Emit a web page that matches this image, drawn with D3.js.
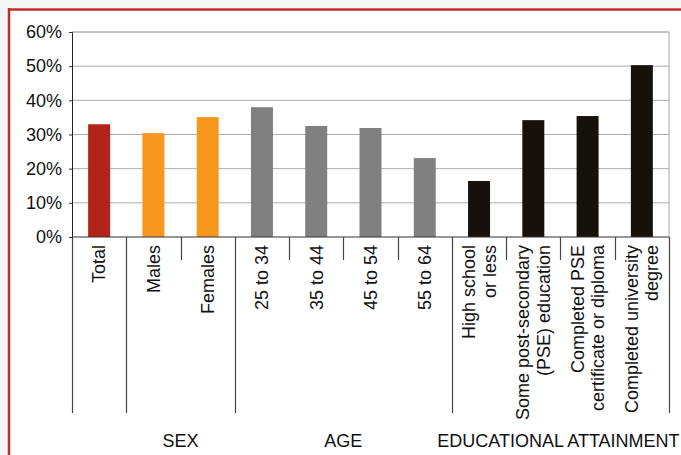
<!DOCTYPE html>
<html><head><meta charset="utf-8">
<script src="https://cdn.jsdelivr.net/npm/d3@7"></script>
<style>
html,body{margin:0;padding:0;background:#fff;overflow:hidden;}
svg{display:block;font-family:"Liberation Sans",Arial,sans-serif;}
</style></head>
<body><svg id="c" width="681" height="455"></svg>
<script>
const categories = ["Total","Males","Females","25 to 34","35 to 44","45 to 54","55 to 64",
  "High school\nor less","Some post-secondary\n(PSE) education","Completed PSE\ncertificate or diploma","Completed university\ndegree"];
const values = [33.0, 30.4, 35.1, 38.0, 32.5, 31.9, 23.1, 16.4, 34.2, 35.4, 50.3];
const groupOf = ["Total","SEX","SEX","AGE","AGE","AGE","AGE","EDU","EDU","EDU","EDU"];
const groupNames = ["SEX","AGE","EDU"];
const groupLabels = {SEX:"SEX", AGE:"AGE", EDU:"EDUCATIONAL ATTAINMENT"};
const colors = {Total:"#b22418", SEX:"#f7971e", AGE:"#808080", EDU:"#16110b"};
const yTicks = [0,10,20,30,40,50,60];

const svg = d3.select("#c");
const L = 72, R = 669, T = 32, B = 237, SEPB = 413;

// outer background strips and red frame (top and left edges)
svg.append("rect").attr("x",0).attr("y",0).attr("width",681).attr("height",8).attr("fill","#f6f8f8");
svg.append("rect").attr("x",0).attr("y",0).attr("width",8).attr("height",455).attr("fill","#f6f8f8");
svg.append("line").attr("x1",8).attr("x2",681).attr("y1",9.5).attr("y2",9.5).attr("stroke","#c0302a").attr("stroke-width",2.5);
svg.append("line").attr("x1",9).attr("x2",9).attr("y1",8).attr("y2",455).attr("stroke","#c0302a").attr("stroke-width",2.5);

const x = d3.scaleBand().domain(categories).range([L, R]).padding(0);
const y = d3.scaleLinear().domain([0, 60]).range([B, T]);

// gridlines
svg.append("g").selectAll("line").data(yTicks.filter(t => t > 0 && t < 60)).join("line")
  .attr("x1", L).attr("x2", R).attr("y1", d => y(d)).attr("y2", d => y(d))
  .attr("stroke", "#acacac").attr("stroke-width", 1);
// top and right border
svg.append("line").attr("x1", L).attr("x2", R).attr("y1", y(60)).attr("y2", y(60)).attr("stroke", "#8a8a8a");
svg.append("line").attr("x1", R).attr("x2", R).attr("y1", y(60)).attr("y2", B).attr("stroke", "#a8a8a8");

// bars
const bw = x.bandwidth() * 0.405;
svg.append("g").selectAll("rect").data(categories).join("rect")
  .attr("x", d => x(d) + x.bandwidth()/2 - bw/2)
  .attr("width", bw)
  .attr("y", (d,i) => y(values[i]))
  .attr("height", (d,i) => B - y(values[i]))
  .attr("fill", (d,i) => colors[groupOf[i]]);

// y axis
const ya = svg.append("g").attr("transform", `translate(${L},0)`)
  .call(d3.axisLeft(y).tickValues(yTicks).tickFormat(d => d + "%").tickSize(3).tickPadding(7));
ya.select(".domain").attr("stroke", "#222");
ya.selectAll(".tick line").attr("stroke", "#333");
ya.selectAll(".tick text").attr("font-size", 18).attr("fill", "#111").attr("font-family", "Liberation Sans, Arial, sans-serif");

// x axis baseline
svg.append("line").attr("x1", L).attr("x2", R).attr("y1", B).attr("y2", B).attr("stroke", "#333").attr("stroke-width", 1.2);

// separators
const bounds = [];
categories.forEach((c, i) => {
  const xb = x(c);
  const isLong = i === 0 || groupOf[i] !== groupOf[i-1];
  bounds.push({x: xb, long: isLong});
});
bounds.push({x: x(categories[categories.length-1]) + x.bandwidth(), long: true});
svg.append("g").selectAll("line").data(bounds).join("line")
  .attr("x1", d => Math.round(d.x) + 0.5).attr("x2", d => Math.round(d.x) + 0.5)
  .attr("y1", B).attr("y2", d => d.long ? SEPB : 260)
  .attr("stroke", "#444").attr("stroke-width", 1.2);

// category labels
const lab = svg.append("g").selectAll("text").data(categories).join("text")
  .attr("transform", d => `translate(${x(d) + x.bandwidth()/2},${B + 8}) rotate(-90)`)
  .attr("text-anchor", "end").attr("font-size", 18).attr("fill", "#111");
lab.each(function(d) {
  const lines = d.split("\n");
  const n = lines.length;
  d3.select(this).selectAll("tspan").data(lines).join("tspan")
    .attr("x", 0)
    .attr("y", (l, i) => (i - (n - 1) / 2) * 20.5)
    .attr("dy", "0.35em")
    .text(l => l);
});

// group labels
svg.append("g").selectAll("text").data(groupNames).join("text")
  .attr("x", g => {
    const cs = categories.filter((c, i) => groupOf[i] === g);
    const x0 = x(cs[0]), x1 = x(cs[cs.length-1]) + x.bandwidth();
    return (x0 + x1) / 2 + (g === "EDU" ? -2 : 0);
  })
  .attr("y", 447)
  .attr("text-anchor", "middle").attr("font-size", 18).attr("fill", "#111")
  .text(g => groupLabels[g]);
</script></body></html>
